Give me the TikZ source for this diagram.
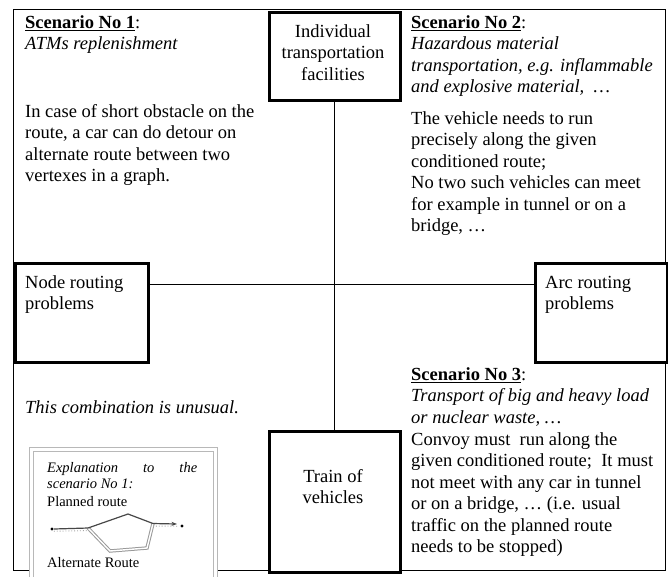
\documentclass[tikz,border=0pt]{standalone}
\usepackage{fontspec}
\setmainfont{Liberation Serif}
\usetikzlibrary{calc,arrows.meta}

\begin{document}
\begin{tikzpicture}[x=1pt,y=-1pt,
  frame/.style={draw=black, line width=0.9pt},
  thickbox/.style={draw=black, line width=3.2pt, fill=white, inner sep=0pt, anchor=north west},
  link/.style={draw=black, line width=0.9pt},
  body/.style={anchor=north west, inner sep=0pt, align=left, font=\fontsize{18.5}{21.5}\selectfont},
  cbody/.style={anchor=north, inner sep=0pt, align=center, font=\fontsize{18.5}{21.5}\selectfont},
  small/.style={anchor=north west, inner sep=0pt, align=left, font=\fontsize{14.5}{16.5}\selectfont},
  expbox/.style={draw=black!28, line width=1.1pt, double=white, double distance=3pt, fill=white, inner sep=0pt, anchor=north west},
  dot/.style={circle, fill=black, inner sep=0pt, minimum size=3.4pt},
  planned/.style={draw=black!72, line width=1.2pt},
  alternate/.style={draw=black!40, line width=1pt, double=white, double distance=1.4pt},
]
\useasboundingbox (0,0) rectangle (668,576);
\clip (0,0) rectangle (668,576);
\fill[white] (0,0) rectangle (668,576);

% outer frame of the matrix
\draw[frame] (13,9) rectangle (665,570);

% the four concept boxes
\node[thickbox, minimum width=131pt, minimum height=88pt]  (itf)   at (267.5,10.5)  {};
\node[thickbox, minimum width=131pt, minimum height=141pt] (train) at (267.5,429.5) {};
\node[thickbox, minimum width=133pt, minimum height=99pt]  (nrp)   at (13.5,261.5)  {};
\node[thickbox, minimum width=132pt, minimum height=99pt]  (arp)   at (533.5,261.5) {};

% axes joining the boxes
\draw[link] (itf.south) -- (train.north);
\draw[link] ([yshift=-22.5pt]nrp.north east) -- ([yshift=-22.5pt]arp.north west);

% box labels
\node[cbody] (itft) at (333,21.95) {\strut Individual\\transportation\\facilities};
\node[cbody] (traint) at (333,466.95) {\strut Train of\\vehicles};
\node[body] (nrpt) at (25,272.95) {\strut Node routing\\problems};
\node[body] (arpt) at (545,272.95) {\strut Arc routing\\problems};

% scenario 1
\node[body] (s1h) at (25,12.95) {\strut\underline{\textbf{Scenario No 1}}:\\\textit{ATMs replenishment}};
\node[body] (s1b) at (25,101.95) {\strut In case of short obstacle on the\\route, a car can do detour on\\alternate route between two\\vertexes in a graph.};

% scenario 2
\node[body] (s2h) at (411,12.95) {\strut\underline{\textbf{Scenario No 2}}:\\\textit{Hazardous material}\\\textit{transportation, e.g. inflammable}\\\textit{and explosive material,~ …}};
\node[body] (s2b) at (411,108.95) {\strut The vehicle needs to run\\precisely along the given\\conditioned route;\\No two such vehicles can meet\\for example in tunnel or on a\\bridge, …};

% scenario 3
\node[body] (s3h) at (411,364.95) {\strut\underline{\textbf{Scenario No 3}}:\\\textit{Transport of big and heavy load}\\\textit{or nuclear waste, …}};
\node[body] (s3b) at (411,429.95) {\strut Convoy must~ run along the\\given conditioned route;~ It must\\not meet with any car in tunnel\\or on a bridge, … (i.e. usual\\traffic on the planned route\\needs to be stopped)};

% lower left quadrant
\node[body] (unus) at (25,397.95) {\strut\textit{This combination is unusual.}};

% explanation inset
\node[expbox, minimum width=184pt, minimum height=160pt] (expl) at (31,449) {};
\node[small] (expt) at (47,460.45) {\strut\hbox to 150pt{\textit{Explanation}\hfill\textit{to}\hfill\textit{the}}\\\textit{scenario No 1:}};
\node[small] (plan) at (47,494.45) {\strut Planned route};
\node[small] (altr) at (47,555.45) {\strut Alternate Route};

\node[dot] (p0) at (52,529) {};
\node[dot] (p1) at (182,526) {};
\coordinate (fork) at (88,528);
\coordinate (top) at (128,514);
\coordinate (join) at (153,523.5);
\coordinate (tip) at (177,524);
\coordinate (low1) at (110,551);
\coordinate (low2) at (147,548);
\draw[alternate] (fork) -- (low1) -- (low2) -- (join);
\draw[draw=black!35, line width=0.9pt, dotted] ([yshift=-2.2pt]p0.east) -- ([yshift=-2.6pt]fork);
\draw[draw=black!35, line width=0.9pt, dotted] ([yshift=-2.6pt]join) -- ([yshift=-2.2pt]tip);
\draw[planned, -{Stealth[length=5.5pt,width=4pt]}] (p0.east) -- (fork) -- (top) -- (join) -- (tip);
\end{tikzpicture}
\end{document}
